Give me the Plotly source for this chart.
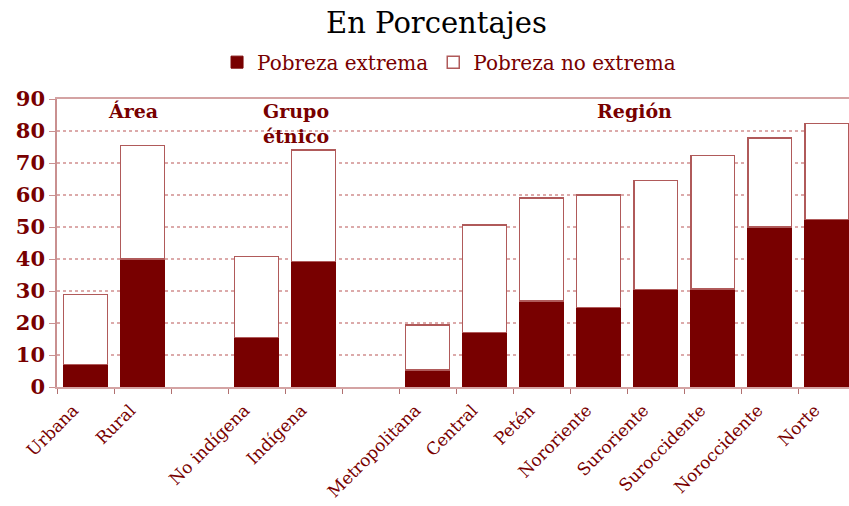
import plotly.graph_objects as go

categories = ["Urbana", "Rural", " ", "No indígena", "Indígena", "  ", "Metropolitana",
              "Central", "Petén", "Nororiente", "Suroriente", "Suroccidente",
              "Noroccidente", "Norte"]
extrema = [7.1, 40.0, None, 15.4, 39.2, None, 5.3, 17.1, 26.9, 24.9, 30.4, 30.6, 50.0, 52.3]
total = [28.9, 75.5, None, 40.8, 74.1, None, 19.3, 50.7, 59.1, 60.0, 64.5, 72.3, 77.8, 82.3]
no_extrema = [None if t is None else round(t - e, 1) for t, e in zip(total, extrema)]
y_ticks = [0, 10, 20, 30, 40, 50, 60, 70, 80, 90]
group_labels = ["Área", "Grupo<br>étnico", "Región"]
group_x = [0.83, 3.69, 9.63]
group_y = [86.3, 82.3, 86.3]

RED = "#780000"
EDGE = "#b05a5a"
SERIF = "DejaVu Serif, serif"

fig = go.Figure()
fig.add_trace(go.Bar(x=categories, y=extrema, name="Pobreza extrema",
                     marker=dict(color=RED, line=dict(color=RED, width=1))))
fig.add_trace(go.Bar(x=categories, y=no_extrema, name="Pobreza no extrema",
                     marker=dict(color="white", line=dict(color=EDGE, width=1.5))))

fig.update_layout(
    barmode="stack",
    bargap=0.23,
    width=849, height=506,
    margin=dict(l=57, r=0, t=99, b=119),
    plot_bgcolor="white", paper_bgcolor="white",
    title=dict(text="En Porcentajes", x=0.514, xanchor="center", y=0.955, yanchor="middle",
               font=dict(family=SERIF, size=29, color="black")),
    legend=dict(orientation="h", x=0.495, xanchor="center", y=1.128, yanchor="middle",
                font=dict(family=SERIF, size=20, color=RED),
                traceorder="normal", itemwidth=30, bgcolor="rgba(0,0,0,0)"),
    showlegend=True,
    font=dict(family=SERIF, color=RED),
)
fig.update_xaxes(
    type="category", range=[-0.5, 13.39], automargin=False,
    showline=True, linecolor="#d4a3a3", linewidth=1.5, mirror=True,
    ticks="outside", tickson="boundaries", ticklen=5, tickcolor="#b07070",
    tickangle=-45, ticklabelshift=-12, ticklabelstandoff=5,
    tickfont=dict(family=SERIF, size=17, color=RED),
    showgrid=False,
)
fig.update_yaxes(
    range=[0, 90], tickvals=y_ticks, automargin=False,
    showline=True, linecolor="#c99090", linewidth=1.5,
    ticks="outside", ticklen=6, tickcolor="#c99090",
    tickfont=dict(family=SERIF, size=21, color=RED, weight="bold"),
    showgrid=True, gridcolor="#dcaaaa", griddash="dot", gridwidth=1.5,
    zeroline=False,
)

for txt, xc, yv in zip(group_labels, group_x, group_y):
    fig.add_annotation(x=xc, y=yv, xref="x", yref="y", text=f"<b>{txt}</b>", showarrow=False,
                       font=dict(family=SERIF, size=19, color=RED), align="center", yanchor="middle")

fig.write_html("out.html", config={"displayModeBar": False},
               post_script="document.body.style.margin='0';")
